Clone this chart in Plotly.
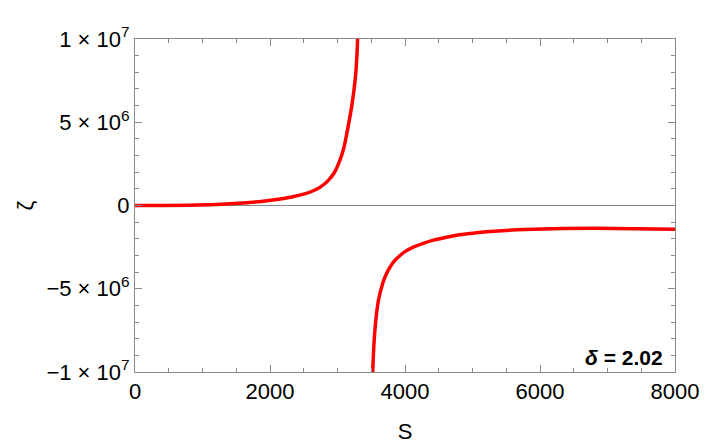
import plotly.graph_objects as go

# Branch below the pole (S, zeta)
s_upper = [0, 400, 800, 1200, 1600, 1900, 2100, 2300, 2500, 2650, 2750, 2850,
           2950, 3025, 3090, 3146, 3200, 3240, 3270, 3290, 3300, 3312]
zeta_upper = [0, 0.005e6, 0.02e6, 0.06e6, 0.15e6, 0.26e6, 0.36e6, 0.50e6, 0.68e6,
              0.90e6, 1.12e6, 1.45e6, 1.95e6, 2.6e6, 3.4e6, 4.5e6, 5.7e6, 6.8e6,
              7.9e6, 9.2e6, 10.2e6, 11.5e6]

# Branch above the pole
s_lower = [3505, 3521, 3552, 3604, 3669, 3720, 3778, 3850, 3926, 4000, 4123,
           4270, 4420, 4600, 4765, 5000, 5210, 5654, 6200, 6800, 7400, 8000]
zeta_lower = [-12.0e6, -10.0e6, -7.6e6, -5.75e6, -4.68e6, -4.14e6, -3.7e6, -3.3e6,
              -3.0e6, -2.77e6, -2.5e6, -2.27e6, -2.08e6, -1.92e6, -1.79e6, -1.67e6,
              -1.58e6, -1.46e6, -1.39e6, -1.37e6, -1.39e6, -1.43e6]

y_tickvals = [-1e7, -5e6, 0, 5e6, 1e7]
y_ticktext = ["−1 × 10<sup>7</sup>", "−5 × 10<sup>6</sup>", "0",
              "5 × 10<sup>6</sup>", "1 × 10<sup>7</sup>"]
x_tickvals = [0, 2000, 4000, 6000, 8000]

FONT = "Liberation Sans, Arial, sans-serif"
AX = "#8a8a8a"

fig = go.Figure()
for sx, zy in [(s_upper, zeta_upper), (s_lower, zeta_lower)]:
    fig.add_trace(go.Scatter(
        x=sx, y=zy, mode="lines",
        line=dict(color="#ff0000", width=3.5, shape="spline", smoothing=1.0),
        showlegend=False, hoverinfo="skip"
    ))

axis_common = dict(
    showgrid=False, showline=True, linecolor=AX, linewidth=1, mirror="ticks",
    ticks="inside", tickcolor=AX, ticklen=7, tickwidth=1, automargin=False,
    tickfont=dict(family=FONT, size=22, color="black"),
)

# the page body adds an 8px offset, margins are shifted to compensate
fig.update_layout(
    width=714, height=445,
    margin=dict(l=127, r=47, t=31, b=81),
    paper_bgcolor="white", plot_bgcolor="white",
    font=dict(family=FONT, size=22, color="black"),
    xaxis=dict(
        range=[0, 8000], tickvals=x_tickvals,
        title=dict(text="S", font=dict(family=FONT, size=22), standoff=20),
        zeroline=False,
        minor=dict(ticks="inside", dtick=500, ticklen=4, tickcolor=AX),
        **axis_common
    ),
    yaxis=dict(
        range=[-1e7, 1e7], tickvals=y_tickvals, ticktext=y_ticktext,
        zeroline=True, zerolinecolor=AX, zerolinewidth=1,
        minor=dict(ticks="inside", dtick=1e6, ticklen=4, tickcolor=AX),
        **axis_common
    ),
    annotations=[
        dict(
            text="<b><i>δ</i> = 2.02</b>", xref="paper", yref="paper",
            x=1, y=0, xanchor="right", yanchor="bottom", xshift=-10, yshift=1,
            showarrow=False, font=dict(family=FONT, size=21, color="black")
        ),
        # y-axis label placed by hand
        dict(
            text="ζ", xref="paper", yref="paper", x=0, y=0.5,
            xanchor="center", yanchor="middle", xshift=-110, textangle=-90,
            showarrow=False, font=dict(family=FONT, size=22, color="black")
        ),
    ],
)

fig.write_html("out.html")
